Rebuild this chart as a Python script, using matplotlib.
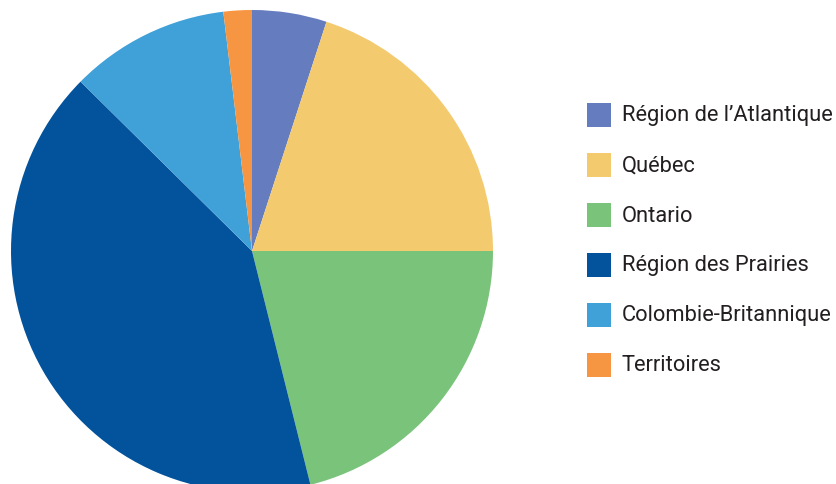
import matplotlib
matplotlib.use("Agg")
import matplotlib.pyplot as plt
from matplotlib.patches import Rectangle

categories = ["Région de l\u2019Atlantique", "Québec", "Ontario",
              "Région des Prairies", "Colombie-Britannique", "Territoires"]
values = [5.0, 20.0, 21.1, 41.3, 10.7, 1.9]
colors = ["#657cbf", "#f4ca6f", "#79c47a", "#03529c", "#40a0d8", "#f69642"]

W, H = 837, 485
fig = plt.figure(figsize=(W / 100, H / 100), dpi=100)
ax = fig.add_axes([0, 0, 1, 1])

cx, cy, r = 252, H - 252, 241
ax.pie(values, colors=colors, startangle=90, counterclock=False,
       radius=r, center=(cx, cy), frame=True,
       wedgeprops=dict(linewidth=0))
ax.set_xlim(0, W)
ax.set_ylim(0, H)
ax.set_aspect("equal")
ax.axis("off")

font = ["Roboto", "DejaVu Sans"]
texts = []
for i, (lab, col) in enumerate(zip(categories, colors)):
    yc = H - (116 + 50 * i)
    ax.add_patch(Rectangle((587, yc - 12), 24, 24, facecolor=col, edgecolor="none"))
    texts.append(ax.text(622, yc, lab, fontsize=17, family=font, color="#231f20",
                         va="center", ha="left"))

# fit widest label to the reference width (~211 px)
fig.canvas.draw()
rend = fig.canvas.get_renderer()
wmax = max(t.get_window_extent(rend).width for t in texts)
fs = 17 * 211 / wmax
for t in texts:
    t.set_fontsize(fs)

fig.savefig("out.png", dpi=100)
